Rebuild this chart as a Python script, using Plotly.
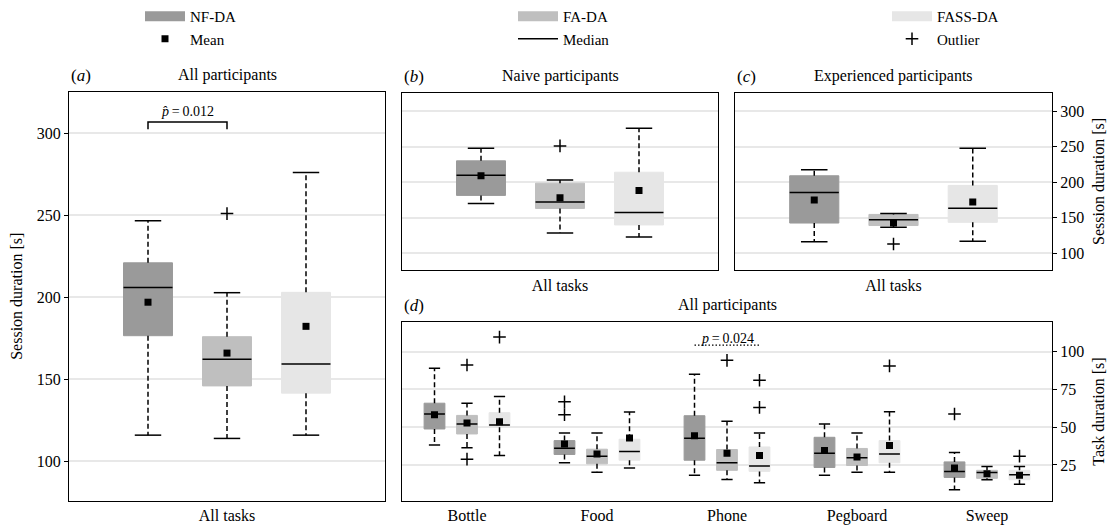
import plotly.graph_objects as go

W, H = 1110, 525
FONT = "Liberation Serif, Times New Roman, serif"

SERIES = ["NF-DA", "FA-DA", "FASS-DA"]
FILLS = ["#9a9a9a", "#bfbfbf", "#e6e6e6"]

# (a) All participants - session duration [s]
a_q1 = [176.6, 146.0, 141.6]
a_median = [206.0, 162.3, 159.4]
a_q3 = [221.0, 176.0, 203.0]
a_low = [116.0, 114.0, 116.0]
a_high = [246.7, 202.8, 276.0]
a_mean = [197.0, 166.0, 182.3]
a_out = [[], [251.0], []]

# (b) Naive participants
b_q1 = [181.4, 163.0, 139.8]
b_median = [209.7, 172.0, 157.4]
b_q3 = [230.0, 198.6, 214.0]
b_low = [170.0, 128.6, 123.0]
b_high = [247.6, 203.0, 276.0]
b_mean = [209.0, 178.0, 188.3]
b_out = [[], [251.0], []]

# (c) Experienced participants
c_q1 = [142.5, 139.0, 143.5]
c_median = [185.6, 147.2, 163.4]
c_q3 = [209.0, 154.6, 195.4]
c_low = [116.0, 136.5, 116.7]
c_high = [217.5, 156.0, 247.6]
c_mean = [175.0, 142.5, 172.0]
c_out = [[], [113.0], []]

# (d) All participants - task duration [s]; rows = series, columns = tasks
tasks = ["Bottle", "Food", "Phone", "Pegboard", "Sweep"]
d_q1 = [[48.8, 31.9, 28.1, 23.3, 16.7],
        [45.5, 25.7, 21.4, 24.6, 16.1],
        [49.9, 28.1, 20.7, 26.4, 15.2]]
d_median = [[58.7, 36.1, 42.6, 32.8, 20.7],
            [52.1, 30.8, 26.4, 29.7, 20.0],
            [51.4, 33.9, 24.2, 32.3, 18.5]]
d_q3 = [[65.9, 41.1, 57.6, 43.3, 27.0],
        [57.8, 35.4, 35.2, 35.9, 21.4],
        [59.6, 42.0, 36.9, 41.1, 21.4]]
d_low = [[38.2, 26.4, 18.1, 18.1, 8.6],
         [36.3, 20.2, 15.4, 20.2, 15.2],
         [31.2, 23.0, 13.2, 20.2, 12.1]]
d_high = [[89.0, 46.2, 85.0, 52.1, 33.2],
          [65.9, 46.2, 53.9, 46.2, 24.0],
          [70.3, 60.0, 46.2, 60.2, 24.0]]
d_mean = [[58.3, 38.9, 44.4, 34.5, 22.9],
          [52.7, 32.3, 32.8, 30.3, 19.1],
          [53.6, 42.9, 31.2, 37.8, 18.1]]
d_out = [[[], [66.8, 58.3], [], [], [58.7]],
         [[91.2, 28.8], [], [94.3], [], []],
         [[109.7], [], [81.1, 63.1], [90.6], [30.8]]]

# significance annotations
a_sig_pair = [0, 1]
a_sig_text = "<i>p\u0302</i>\u2009=\u20090.012"
a_sig_y = [302.4, 306.8, 313.5]
d_sig_task = 2
d_sig_pair = [0, 2]
d_sig_text = "<i>p</i>\u2009=\u20090.024"
d_sig_y = [104.4, 108.6]

fig = go.Figure()


def add_panel(xa, ya, positions, q1, med, q3, low, high, mean, outs, width):
    cw = width * 0.27
    for s in range(3):
        pos = positions[s]
        fig.add_trace(go.Box(
            x=pos, q1=q1[s], median=med[s], q3=q3[s],
            lowerfence=q1[s], upperfence=q3[s], width=width,
            fillcolor=FILLS[s], line=dict(color=FILLS[s], width=1),
            whiskerwidth=0, boxpoints=False, showlegend=False,
            hoverinfo="skip", xaxis=xa, yaxis=ya))
        wx, wy, cx, cy, mx, my, ox, oy = [], [], [], [], [], [], [], []
        for i, p in enumerate(pos):
            wx += [p, p, None, p, p, None]
            wy += [q3[s][i], high[s][i], None, q1[s][i], low[s][i], None]
            cx += [p - cw, p + cw, None, p - cw, p + cw, None]
            cy += [high[s][i], high[s][i], None, low[s][i], low[s][i], None]
            mx += [p - width / 2, p + width / 2, None]
            my += [med[s][i], med[s][i], None]
            for o in outs[s][i]:
                ox.append(p)
                oy.append(o)
        fig.add_trace(go.Scatter(x=wx, y=wy, mode="lines", xaxis=xa, yaxis=ya,
                                 line=dict(color="black", width=1.5, dash="5px,3px"),
                                 showlegend=False, hoverinfo="skip"))
        fig.add_trace(go.Scatter(x=cx, y=cy, mode="lines", xaxis=xa, yaxis=ya,
                                 line=dict(color="black", width=1.5),
                                 showlegend=False, hoverinfo="skip"))
        fig.add_trace(go.Scatter(x=mx, y=my, mode="lines", xaxis=xa, yaxis=ya,
                                 line=dict(color="black", width=1.5),
                                 showlegend=False, hoverinfo="skip"))
        fig.add_trace(go.Scatter(x=pos, y=mean[s], mode="markers", xaxis=xa, yaxis=ya,
                                 marker=dict(symbol="square", size=7, color="black"),
                                 showlegend=False, hoverinfo="skip"))
        if ox:
            fig.add_trace(go.Scatter(x=ox, y=oy, mode="markers", xaxis=xa, yaxis=ya,
                                     marker=dict(symbol="cross-thin", size=9,
                                                 line=dict(color="black", width=1.5)),
                                     showlegend=False, hoverinfo="skip"))


single_pos = [[0], [1], [2]]


def wrap(arr):
    return [[v] for v in arr]


add_panel("x", "y", single_pos, wrap(a_q1), wrap(a_median), wrap(a_q3), wrap(a_low),
          wrap(a_high), wrap(a_mean), wrap(a_out), 0.62)
add_panel("x2", "y2", single_pos, wrap(b_q1), wrap(b_median), wrap(b_q3), wrap(b_low),
          wrap(b_high), wrap(b_mean), wrap(b_out), 0.62)
add_panel("x3", "y3", single_pos, wrap(c_q1), wrap(c_median), wrap(c_q3), wrap(c_low),
          wrap(c_high), wrap(c_mean), wrap(c_out), 0.62)
offsets = [-0.25, 0.0, 0.25]
d_pos = [[i + off for i in range(len(tasks))] for off in offsets]
add_panel("x4", "y4", d_pos, d_q1, d_median, d_q3, d_low, d_high, d_mean, d_out, 0.16)

# significance bracket (a)
fig.add_trace(go.Scatter(
    x=[a_sig_pair[0], a_sig_pair[0], a_sig_pair[1], a_sig_pair[1]],
    y=[a_sig_y[0], a_sig_y[1], a_sig_y[1], a_sig_y[0]], mode="lines",
    line=dict(color="black", width=1.5), xaxis="x", yaxis="y",
    showlegend=False, hoverinfo="skip"))
fig.add_annotation(x=sum(a_sig_pair) / 2, y=a_sig_y[2], xref="x", yref="y",
                   text=a_sig_text, showarrow=False, font=dict(family=FONT, size=14))
# significance dotted line (d)
fig.add_trace(go.Scatter(
    x=[d_sig_task + offsets[d_sig_pair[0]], d_sig_task + offsets[d_sig_pair[1]]],
    y=[d_sig_y[0], d_sig_y[0]], mode="lines",
    line=dict(color="black", width=1.3, dash="1.5px,2px"), xaxis="x4", yaxis="y4",
    showlegend=False, hoverinfo="skip"))
fig.add_annotation(x=d_sig_task, y=d_sig_y[1], xref="x4", yref="y4",
                   text=d_sig_text, showarrow=False, font=dict(family=FONT, size=14))

# legend entries
legend_names = ["legend", "legend2", "legend3"]
extra = [("Mean", dict(mode="markers", marker=dict(symbol="square", size=7, color="black"))),
         ("Median", dict(mode="lines", line=dict(color="black", width=1.5))),
         ("Outlier", dict(mode="markers", marker=dict(symbol="cross-thin", size=9,
                                                      line=dict(color="black", width=1.5))))]
for s in range(3):
    fig.add_trace(go.Scatter(x=[None], y=[None], mode="lines", name=SERIES[s],
                             line=dict(color=FILLS[s], width=13), legend=legend_names[s]))
    fig.add_trace(go.Scatter(x=[None], y=[None], name=extra[s][0], legend=legend_names[s],
                             **extra[s][1]))


def px_x(a, b):
    return [a / W, b / W]


def px_y(top, bottom):
    return [1 - bottom / H, 1 - top / H]


frame = dict(showline=True, mirror=True, linecolor="black", linewidth=1, zeroline=False)
yticks = [100, 150, 200, 250, 300]
grid = dict(showgrid=True, gridcolor="#e8e8e8", gridwidth=1.5)
tickfont = dict(family=FONT, size=16, color="black")
legfont = dict(family=FONT, size=15, color="black")

fig.update_layout(
    width=W, height=H, autosize=False,
    margin=dict(l=0, r=0, t=0, b=0),
    plot_bgcolor="white", paper_bgcolor="white",
    font=dict(family=FONT, size=16, color="black"),
    xaxis=dict(domain=px_x(69, 385), range=[-1, 3], tickvals=[1], ticktext=["All tasks"],
               ticks="", showgrid=False, anchor="y", tickfont=tickfont, **frame),
    yaxis=dict(domain=px_y(93, 504), range=[75.8, 324.8], tickvals=yticks, ticks="outside",
               ticklen=4, tickcolor="black", anchor="x", tickfont=tickfont, **grid, **frame),
    xaxis2=dict(domain=px_x(402, 718), range=[-1, 3], tickvals=[1], ticktext=["All tasks"],
                ticks="", showgrid=False, anchor="y2", tickfont=tickfont, **frame),
    yaxis2=dict(domain=px_y(94, 272), range=[75.8, 324.8], tickvals=yticks, ticks="",
                showticklabels=False, anchor="x2", **grid, **frame),
    xaxis3=dict(domain=px_x(735, 1052), range=[-1, 3], tickvals=[1], ticktext=["All tasks"],
                ticks="", showgrid=False, anchor="y3", tickfont=tickfont, **frame),
    yaxis3=dict(domain=px_y(94, 272), range=[75.8, 324.8], tickvals=yticks, ticks="outside",
                ticklen=4, tickcolor="black", side="right", anchor="x3", tickfont=tickfont,
                **grid, **frame),
    xaxis4=dict(domain=px_x(402, 1052), range=[-0.5, 4.5], tickvals=list(range(len(tasks))),
                ticktext=tasks, ticks="", showgrid=False, anchor="y4", tickfont=tickfont, **frame),
    yaxis4=dict(domain=px_y(324, 504), range=[1.0, 119.6], tickvals=[25, 50, 75, 100],
                ticks="outside", ticklen=4, tickcolor="black", side="right", anchor="x4",
                tickfont=tickfont, **grid, **frame),
    legend=dict(x=140 / W, y=1.0, xanchor="left", yanchor="top",
                bgcolor="rgba(0,0,0,0)", font=legfont, itemwidth=40),
    legend2=dict(x=513 / W, y=1.0, xanchor="left", yanchor="top",
                 bgcolor="rgba(0,0,0,0)", font=legfont, itemwidth=40),
    legend3=dict(x=887 / W, y=1.0, xanchor="left", yanchor="top",
                 bgcolor="rgba(0,0,0,0)", font=legfont, itemwidth=40),
)

# axis titles (rotated)
axis_titles = [("y", 17, "Session duration [s]"),
               ("y3", 1099, "Session duration [s]"),
               ("y4", 1099, "Task duration [s]")]
for ya, xpx, text in axis_titles:
    fig.add_annotation(x=xpx / W, y=0.5, xref="paper", yref=f"{ya} domain",
                       text=text, textangle=-90, showarrow=False, xanchor="center",
                       yanchor="middle", font=dict(family=FONT, size=16, color="black"))

# panel titles and labels
titles = [("x", "y", "(<i>a</i>)", "All participants"),
          ("x2", "y2", "(<i>b</i>)", "Naive participants"),
          ("x3", "y3", "(<i>c</i>)", "Experienced participants"),
          ("x4", "y4", "(<i>d</i>)", "All participants")]
for xa, ya, lab, title in titles:
    fig.add_annotation(x=0.5, y=1, xref=f"{xa} domain", yref=f"{ya} domain", text=title,
                       showarrow=False, yanchor="bottom", yshift=6,
                       font=dict(family=FONT, size=16, color="black"))
    fig.add_annotation(x=0, y=1, xref=f"{xa} domain", yref=f"{ya} domain", text=lab,
                       showarrow=False, xanchor="left", yanchor="bottom", yshift=5,
                       font=dict(family=FONT, size=17, color="black"))

fig.write_html("out.html", config={"displayModeBar": False},
               post_script="document.body.style.margin='0';document.body.style.overflow='hidden';")
